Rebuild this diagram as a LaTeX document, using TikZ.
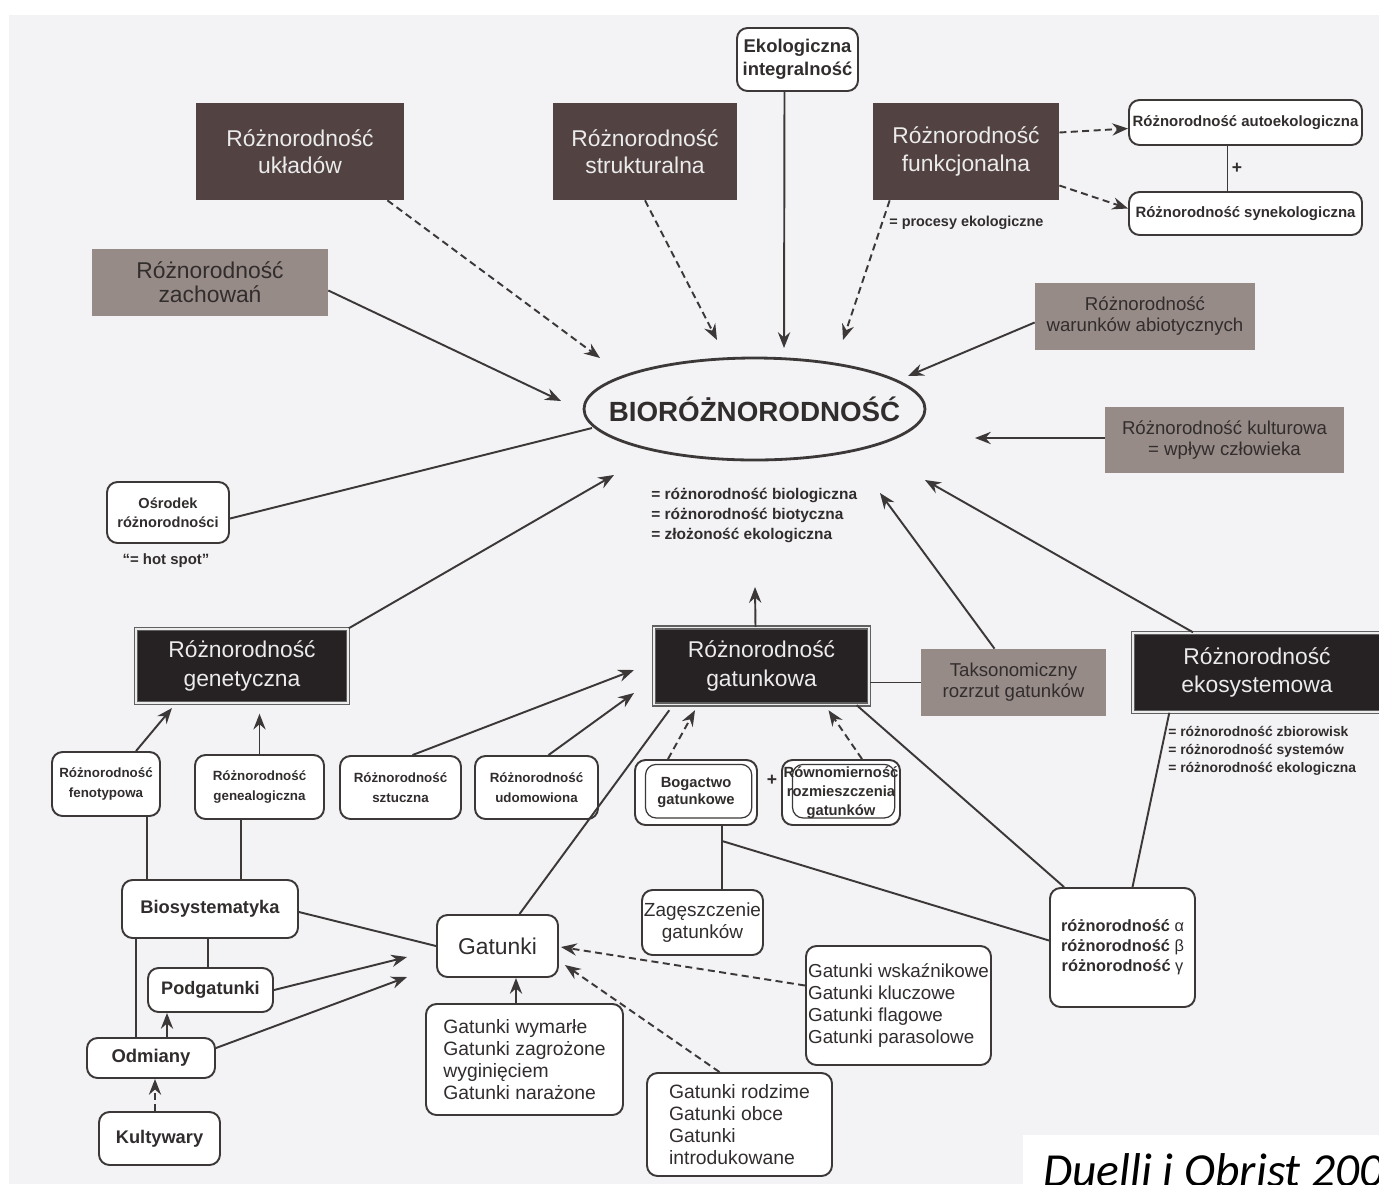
\documentclass[tikz,border=0pt]{standalone}
\usepackage{fontspec}
\setmainfont{Liberation Sans}
\newfontfamily\citefont{Carlito}
\usetikzlibrary{shapes.geometric, arrows.meta, calc}
\newlength\pxu
\setlength\pxu{0.02cm}
\newcommand\fsz[2]{\fontsize{#1}{#2}\selectfont}
\definecolor{pagebg}{RGB}{243,243,246}
\definecolor{boxbrown}{RGB}{82,66,66}
\definecolor{boxblack}{RGB}{38,33,35}
\definecolor{boxgray}{RGB}{150,139,135}
\definecolor{ink}{RGB}{50,45,45}
\definecolor{linecol}{RGB}{60,56,56}

\begin{document}
\begin{tikzpicture}[x=0.02cm, y=-0.02cm,
  wh/.style 2 args={minimum width=#1\pxu, minimum height=#2\pxu, inner sep=0pt},
  darkbox/.style={fill=boxbrown, text=white!92!black, align=center, font=\fsz{13}{15.5}},
  blackbox/.style={fill=boxblack, draw=gray!75!black, line width=0.8pt, double=white!85!gray,
    double distance=1pt, text=white!92!black, align=center, font=\fsz{13}{16}},
  graybox/.style={fill=boxgray, text=ink, align=center, font=\fsz{10.6}{12}},
  rbox/.style={draw=linecol, line width=1.1pt, rounded corners=6pt, fill=white, text=ink, align=center},
  smallb/.style={rbox, font=\bfseries\fsz{7.6}{11.3}},
  listbox/.style={rbox, align=left, font=\fsz{11}{12.6}},
  innerframe/.style={path picture={\draw[linecol, line width=0.7pt]
    ([shift={(6pt,-2.5pt)}]path picture bounding box.north west) rectangle
    ([shift={(-3pt,4pt)}]path picture bounding box.south east);}},
  con/.style={draw=linecol, line width=1.1pt},
  arr/.style={con, -{Stealth[length=9pt,width=7pt,inset=3pt]}},
  darr/.style={arr, dash pattern=on 4pt off 2.5pt},
  eqtext/.style={text=ink, align=left, inner sep=0pt, anchor=north west}]
\useasboundingbox (0,0) rectangle (1379,1184);
\fill[white] (0,0) rectangle (1379,1184);
\fill[pagebg] (9,15) rectangle (1379,1184);
\fill[white] (1023,1135) rectangle (1379,1184);

% top row
\node[darkbox, wh={208}{97}] (uklady) at (300,151.5) {Różnorodność\\układów};
\node[darkbox, wh={184}{97}] (strukt) at (645,151.5) {Różnorodność\\strukturalna};
\node[darkbox, wh={186}{97}] (funk) at (966,151.5) {Różnorodność\\funkcjonalna};
\node[rbox, wh={121}{63}, font=\bfseries\fsz{10.5}{13}] (ekoint) at (797.5,59.5) {Ekologiczna\\integralność};
\node[rbox, wh={233}{45}, font=\bfseries\fsz{8.5}{10}] (auto) at (1245.5,122.5) {Różnorodność autoekologiczna};
\node[rbox, wh={233}{43}, font=\bfseries\fsz{8.5}{10}] (syn) at (1245.5,213.5) {Różnorodność synekologiczna};
\node[text=ink, font=\bfseries\fsz{10}{12}] (plusA) at (1237,168) {+};
\node[anchor=west, inner sep=0pt, text=ink, font=\bfseries\fsz{8.2}{10}] (proc) at (889,223) {= procesy ekologiczne};
\node[graybox, wh={236}{67}, font=\fsz{13}{13.5}] (zach) at (210,282.5) {Różnorodność\\zachowań};
\node[graybox, wh={220}{67}] (war) at (1145,316.5) {Różnorodność\\warunków abiotycznych};
\node[graybox, wh={239}{66}] (kultur) at (1224.5,440) {Różnorodność kulturowa\\= wpływ człowieka};

% centre
\node[ellipse, draw=linecol, line width=1.6pt, wh={341}{102}] (bio) at (754.5,409) {};
\node[text=ink, font=\bfseries\fsz{15.8}{18}] (biotxt) at (bio) {BIORÓŻNORODNOŚĆ};
\node[eqtext, font=\bfseries\fsz{8.8}{11.3}] (bioeq) at (651,488) {= różnorodność biologiczna\\= różnorodność biotyczna\\= złożoność ekologiczna};
\node[rbox, wh={122}{61}, font=\bfseries\fsz{8.3}{11}] (osr) at (168,512.5) {Ośrodek\\różnorodności};
\node[text=ink, font=\bfseries\fsz{8.5}{10}] (hot) at (166,561) {“= hot spot”};

% middle row
\node[blackbox, wh={212}{74}] (genet) at (242,666) {Różnorodność\\genetyczna};
\node[blackbox, wh={215}{77}] (gatkowa) at (761.5,666) {Różnorodność\\gatunkowa};
\node[graybox, wh={185}{67}] (taks) at (1013.5,682.5) {Taksonomiczny\\rozrzut gatunków};
\node[blackbox, wh={248}{79}] (ekos) at (1257,672.5) {Różnorodność\\ekosystemowa};
\node[eqtext, font=\bfseries\fsz{7.9}{10.2}] (ekoseq) at (1168,726) {= różnorodność zbiorowisk\\= różnorodność systemów\\= różnorodność ekologiczna};

% lower boxes
\node[smallb, wh={108}{64}] (fen) at (106,784) {Różnorodność\\fenotypowa};
\node[smallb, wh={129}{64}] (geneal) at (259.5,787) {Różnorodność\\genealogiczna};
\node[smallb, wh={121}{63}] (szt) at (400.5,787.5) {Różnorodność\\sztuczna};
\node[smallb, wh={123}{63}] (udo) at (536.5,787.5) {Różnorodność\\udomowiona};
\node[rbox, innerframe, wh={122}{65}, font=\bfseries\fsz{8.4}{10.2}] (bog) at (696,792.5) {Bogactwo\\gatunkowe};
\node[rbox, innerframe, wh={118}{65}, font=\bfseries\fsz{8.4}{11}] (rown) at (841,792.5) {Równomierność\\rozmieszczenia\\gatunków};
\node[text=ink, font=\bfseries\fsz{10}{12}] (plusB) at (772,780) {+};
\node[rbox, wh={121}{65}, font=\fsz{10.8}{12.5}] (zag) at (702.5,922.5) {Zagęszczenie\\gatunków};
\node[rbox, wh={145}{119}, font=\bfseries\fsz{9.3}{11.3}] (abg) at (1122.5,947.5) {różnorodność \textmd{α}\\różnorodność \textmd{β}\\różnorodność \textmd{γ}};
\node[rbox, wh={176}{58}, font=\bfseries\fsz{10.4}{12}] (bios) at (210,909) {Biosystematyka};
\node[rbox, wh={125}{44}, font=\bfseries\fsz{10.3}{12}] (podg) at (210.5,990) {Podgatunki};
\node[rbox, wh={128}{40}, font=\bfseries\fsz{10.5}{12}] (odm) at (151,1058) {Odmiany};
\node[rbox, wh={121}{53}, font=\bfseries\fsz{10.4}{12}] (kultyw) at (159.5,1138.5) {Kultywary};
\node[rbox, wh={121}{62}, font=\fsz{13}{15}] (gatunki) at (497.5,946) {Gatunki};
\node[listbox, wh={197}{111}] (wym) at (524.5,1059.5) {Gatunki wymarłe\\Gatunki zagrożone\\wyginięciem\\Gatunki narażone};
\node[listbox, wh={185}{119}, font=\fsz{10.7}{12.4}] (wsk) at (898.5,1005.5) {Gatunki wskaźnikowe\\Gatunki kluczowe\\Gatunki flagowe\\Gatunki parasolowe};
\node[listbox, wh={185}{103}] (rodz) at (739.5,1124.5) {Gatunki rodzime\\Gatunki obce\\Gatunki\\introdukowane};
\node[anchor=base west, inner sep=0pt, font=\citefont\itshape\fsz{27}{30}] (cite) at (1043,1186) {Duelli i Obrist 200};

% arrow tips near the ellipse
\coordinate (tU) at (600,358);
\coordinate (tS) at (717,340);
\coordinate (tE) at (784,348);
\coordinate (tF) at (843,340);
\coordinate (tZ) at (561,401);
\coordinate (tW) at (908,376);
\coordinate (tK) at (975,438);
\coordinate (tO) at (592,428);
\coordinate (tG) at (614,475);
\coordinate (tGk) at (755,587);
\coordinate (tT) at (880,493);
\coordinate (tX) at (925,480);
\coordinate (tFe) at (172,708);
\coordinate (tSz) at (634,670);
\coordinate (tUd) at (634,693);

% into BIORÓŻNORODNOŚĆ
\draw[darr] ($(uklady.south east)+(-17,0)$) -- (tU);
\draw[darr] (strukt.south) -- (tS);
\draw[arr] ($(ekoint.south)+(-13,0)$) -- (tE);
\draw[darr] ($(funk.south west)+(17,0)$) -- (tF);
\draw[arr] ($(zach.east)+(0,8)$) -- (tZ);
\draw[arr] ($(war.west)+(0,6)$) -- (tW);
\draw[arr] ($(kultur.west)+(0,-2)$) -- (tK);
\draw[con] ($(osr.east)+(0,6)$) -- (tO);
\draw[arr] (genet.north east) -- (tG);
\draw[arr] ($(gatkowa.north)+(-6,0)$) -- (tGk);
\draw[arr] ($(taks.north)+(-19,0)$) -- (tT);
\draw[arr] ($(ekos.north)+(-64,0)$) -- (tX);

% functional diversity
\draw[darr] ($(funk.east)+(0,-19)$) -- ($(auto.west)+(0,6)$);
\draw[darr] ($(funk.east)+(0,34)$) -- ($(syn.west)+(0,-5)$);
\draw[con] ($(auto.south)+(-18,0)$) coordinate (as) -- (as |- syn.north);

% species level
\draw[con] (taks.west) -- (taks.west -| gatkowa.east);
\draw[arr] ($(fen.north)+(30,0)$) -- (tFe);
\draw[arr] (geneal.north) -- ($(geneal.north |- genet.south)+(0,10)$);
\draw[arr] ($(szt.north)+(12,0)$) -- (tSz);
\draw[arr] ($(udo.north)+(12,0)$) -- (tUd);
\draw[con] ($(gatunki.north)+(22,0)$) -- ($(gatkowa.south west)+(16,5)$);
\draw[darr] ($(bog.north)+(-28,0)$) -- ($(gatkowa.south)+(-66.5,5)$);
\draw[darr] ($(rown.north)+(21,0)$) -- ($(gatkowa.south)+(67,5)$);
\draw[con] ($(gatkowa.south east)+(-13,0)$) -- ($(abg.north west)+(15,0)$);
\draw[con] ($(ekos.south west)+(37,0)$) -- ($(abg.north)+(10,0)$);
\draw[con] ($(bog.south)+(26,0)$) coordinate (bz) -- (bz |- zag.north);
\draw[con] ($(bog.south)+(26,15)$) -- ($(abg.west)+(0,-7)$);

% left cluster
\draw[con] ($(fen.south)+(41,0)$) coordinate (fz) -- (fz |- bios.north);
\draw[con] ($(geneal.south)+(-18.5,0)$) coordinate (gz) -- (gz |- bios.north);
\draw[con] ($(bios.south)+(-74,0)$) coordinate (bo) -- (bo |- odm.north);
\draw[con] ($(bios.south)+(-2,0)$) coordinate (bp) -- (bp |- podg.north);
\draw[con] ($(bios.east)+(0,3)$) -- (gatunki.west);
\draw[arr] (podg.east) -- ($(gatunki.west)+(-29,11)$);
\draw[arr] ($(odm.east)+(0,-10)$) -- ($(gatunki.west)+(-29,31)$);
\draw[arr] ($(odm.north)+(16,0)$) coordinate (op) -- (op |- podg.south);
\draw[darr] ($(kultyw.north)+(-4.5,0)$) coordinate (ko) -- (ko |- odm.south);
\draw[arr] ($(wym.north)+(-8.5,0)$) coordinate (wg) -- (wg |- gatunki.south);
\draw[darr] ($(wsk.west)+(0,-20)$) -- ($(gatunki.east)+(2,1)$);
\draw[darr] ($(rodz.north)+(-20,0)$) -- ($(gatunki.east)+(6,19)$);
\end{tikzpicture}
\end{document}
